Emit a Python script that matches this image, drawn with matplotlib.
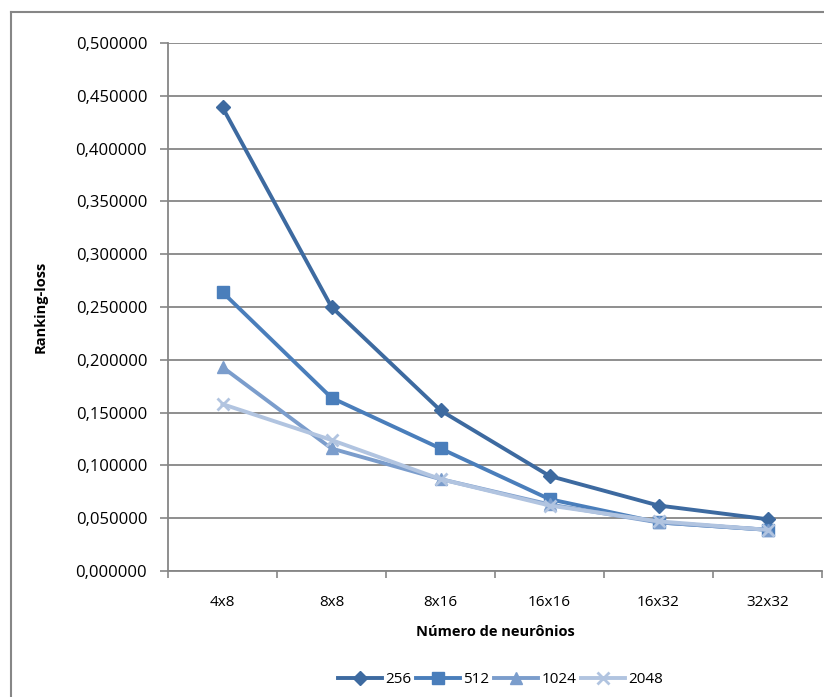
import matplotlib
matplotlib.use('Agg')
import matplotlib.pyplot as plt
from matplotlib.lines import Line2D
from matplotlib.ticker import FuncFormatter

plt.rcParams['font.family'] = ['Open Sans', 'DejaVu Sans']

categories = ['4x8', '8x8', '8x16', '16x16', '16x32', '32x32']
loss_256 = [0.439, 0.250, 0.152, 0.090, 0.062, 0.049]
loss_512 = [0.264, 0.164, 0.116, 0.068, 0.046, 0.039]
loss_1024 = [0.193, 0.116, 0.087, 0.063, 0.046, 0.039]
loss_2048 = [0.158, 0.124, 0.087, 0.062, 0.047, 0.039]

series = [
    ('256', loss_256, '#3d6aa0', 'D', 7),
    ('512', loss_512, '#4a7ebb', 's', 9),
    ('1024', loss_1024, '#7b9dcc', '^', 9),
    ('2048', loss_2048, '#b1c4e0', 'x', 9),
]

fig = plt.figure(figsize=(8.24, 6.97), dpi=100)
ax = fig.add_axes([0.2039, 0.1808, 0.7937, 0.7575])

x = [i + 0.5 for i in range(len(categories))]
for label, vals, color, marker, ms in series:
    ax.plot(x, vals, color=color, linewidth=2.8, marker=marker, markersize=ms,
            markeredgewidth=2 if marker == 'x' else 1, markeredgecolor=color,
            label=label, zorder=3)

ax.set_xlim(0, len(categories))
ax.set_ylim(0, 0.5)
ax.set_yticks([i * 0.05 for i in range(11)])
ax.yaxis.set_major_formatter(FuncFormatter(lambda v, p: f'{v:.6f}'.replace('.', ',')))
ax.set_xticks(x)
ax.set_xticklabels(categories)
ax.set_xticks(range(len(categories) + 1), minor=True)
ax.tick_params(axis='x', which='major', length=0, pad=17, labelsize=11)
ax.tick_params(axis='x', which='minor', length=5, color='#868686', width=1.2)
ax.tick_params(axis='y', length=6, color='#868686', width=1.2, labelsize=12, pad=9)

ax.grid(axis='y', color='#868686', linewidth=1.3)
ax.set_axisbelow(True)
for s in ['top', 'right']:
    ax.spines[s].set_visible(False)
for s in ['left', 'bottom']:
    ax.spines[s].set_color('#868686')
    ax.spines[s].set_linewidth(1.3)

ax.set_ylabel('Ranking-loss', fontsize=10.5, fontweight='bold', labelpad=20)
ax.set_xlabel('Número de neurônios', fontsize=10.5, fontweight='bold', labelpad=11)

ax.legend(loc='center', bbox_to_anchor=(0.508, -0.206), ncol=4, frameon=False,
          fontsize=11, handlelength=2.9, columnspacing=0.3, handletextpad=0.2)

# chart frame
fig.add_artist(Line2D([11 / 824, 1], [1 - 12 / 697, 1 - 12 / 697], color='#868686', linewidth=1.5))
fig.add_artist(Line2D([11 / 824, 11 / 824], [0, 1 - 12 / 697], color='#868686', linewidth=1.5))

fig.savefig('out.png', dpi=100)
